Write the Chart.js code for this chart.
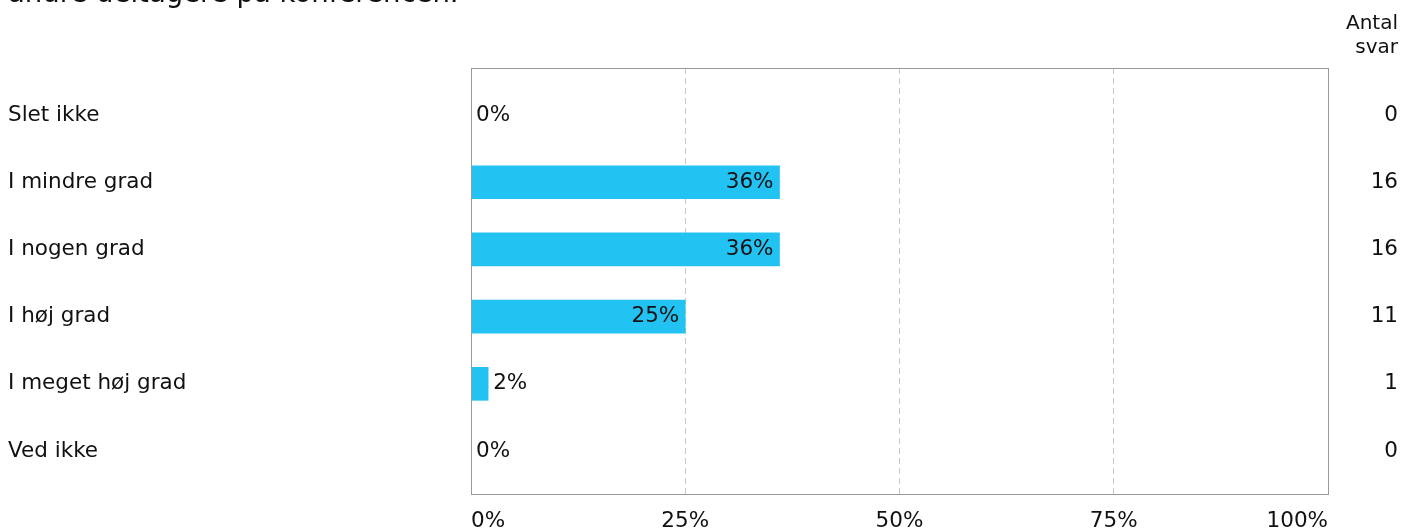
<!DOCTYPE html>
<html lang="da">
<head>
  <title>Svarfordeling</title>
  <script src="https://cdn.jsdelivr.net/npm/chart.js@4.4.1/dist/chart.umd.min.js"></script>
  <style>
    body {
      margin: 0;
      overflow: hidden;
      background: #fff;
      font-family: "DejaVu Sans", Verdana, sans-serif;
      color: #111;
    }

    #wrap {
      position: relative;
      width: 1403px;
      height: 531px;
    }

    #title {
      position: absolute;
      left: 8px;
      top: -21px;
      font-size: 27.5px;
      line-height: 27px;
      white-space: nowrap;
    }

    #countHead {
      position: absolute;
      right: 5px;
      top: 10px;
      font-size: 20px;
      line-height: 24px;
      text-align: right;
    }
  </style>
</head>
<body>
  <div id="wrap">
    <canvas id="chart"></canvas>
    <div id="title">andre deltagere på konferencen.</div>
    <div id="countHead">Antal<br>svar</div>
  </div>

  <script>
    // svarmuligheder og resultater
    var categories = ['Slet ikke', 'I mindre grad', 'I nogen grad', 'I høj grad', 'I meget høj grad', 'Ved ikke'];
    var percents = [0, 36, 36, 25, 2, 0];
    var counts = [0, 16, 16, 11, 1, 0];
    var xTicks = [0, 25, 50, 75, 100];

    var textColor = '#111';
    var font = { family: '"DejaVu Sans", Verdana, sans-serif', size: 21.5 };

    // ramme om plotområdet
    var framePlugin = {
      id: 'frame',
      afterDraw: function (chart) {
        var a = chart.chartArea;
        var ctx = chart.ctx;
        ctx.save();
        ctx.strokeStyle = '#999';
        ctx.lineWidth = 1;
        ctx.setLineDash([]);
        ctx.strokeRect(Math.round(a.left) + 0.5, Math.round(a.top) + 0.5,
          Math.round(a.right - a.left), Math.round(a.bottom - a.top));
        ctx.restore();
      }
    };

    // procent-tekst på søjlerne
    var valueLabels = {
      id: 'valueLabels',
      afterDatasetsDraw: function (chart) {
        var ctx = chart.ctx;
        var meta = chart.getDatasetMeta(0);
        ctx.save();
        ctx.font = font.size + 'px ' + font.family;
        ctx.fillStyle = textColor;
        ctx.textBaseline = 'middle';
        meta.data.forEach(function (bar, i) {
          var txt = percents[i] + '%';
          if (percents[i] >= 10) {
            ctx.textAlign = 'right';
            ctx.fillText(txt, bar.x - 6, bar.y);
          } else {
            ctx.textAlign = 'left';
            ctx.fillText(txt, bar.x + 5, bar.y);
          }
        });
        ctx.restore();
      }
    };

    var ctx = document.getElementById('chart').getContext('2d');
    var myChart = new Chart(ctx, {
      type: 'bar',
      data: {
        datasets: [{
          data: percents.map(function (p, i) { return { x: p, y: i }; }),
          backgroundColor: '#22c3f3',
          borderWidth: 0,
          barThickness: 33
        }]
      },
      options: {
        indexAxis: 'y',
        responsive: true,
        maintainAspectRatio: false,
        animation: false,
        layout: { padding: { left: 8, right: 5, top: 68, bottom: 0 } },
        plugins: {
          legend: { display: false },
          tooltip: { enabled: false }
        },
        scales: {
          x: {
            type: 'linear',
            min: 0,
            max: 100,
            afterBuildTicks: function (scale) {
              scale.ticks = xTicks.map(function (v) { return { value: v }; });
            },
            afterFit: function (scale) { scale.height = 37; },
            ticks: {
              align: 'inner',
              padding: 15,
              color: textColor,
              font: font,
              callback: function (v) { return v + '%'; }
            },
            grid: {
              drawTicks: false,
              color: function (c) {
                return (c.tick && (c.tick.value === 0 || c.tick.value === 100)) ? 'rgba(0,0,0,0)' : '#c8c8c8';
              }
            },
            border: { display: false, dash: [6, 4] }
          },
          y: {
            type: 'linear',
            position: 'left',
            reverse: true,
            offset: false,
            min: -0.7,
            max: 5.64,
            afterFit: function (scale) { scale.width = 463; },
            ticks: {
              stepSize: 1,
              includeBounds: false,
              crossAlign: 'far',
              color: textColor,
              font: font,
              callback: function (v) { return categories[v] !== undefined ? categories[v] : ''; }
            },
            grid: { display: false },
            border: { display: false }
          },
          y2: {
            type: 'linear',
            position: 'right',
            reverse: true,
            offset: false,
            min: -0.7,
            max: 5.64,
            afterFit: function (scale) { scale.width = 70; },
            ticks: {
              stepSize: 1,
              includeBounds: false,
              crossAlign: 'far',
              color: textColor,
              font: font,
              callback: function (v) { return counts[v] !== undefined ? String(counts[v]) : ''; }
            },
            grid: { display: false },
            border: { display: false }
          }
        }
      },
      plugins: [framePlugin, valueLabels]
    });
  </script>
</body>
</html>
